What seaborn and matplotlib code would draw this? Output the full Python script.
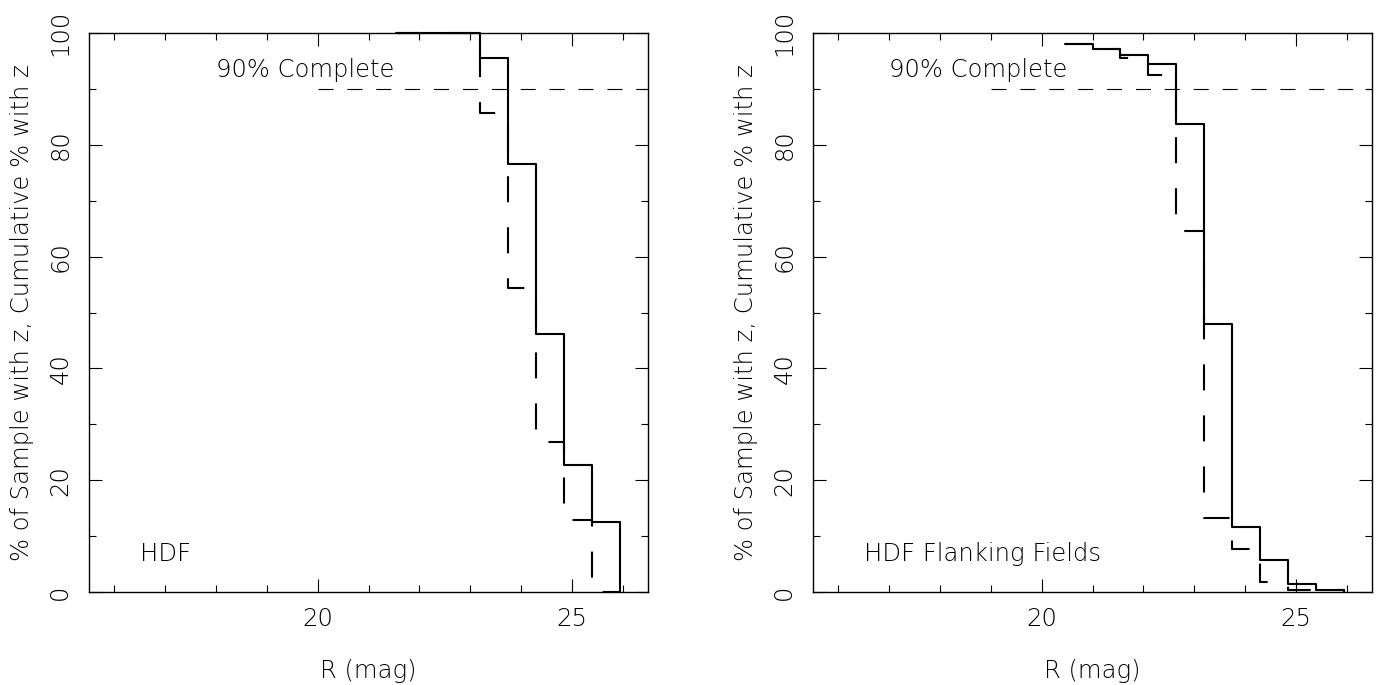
import matplotlib
matplotlib.use("Agg")
import matplotlib.pyplot as plt
from matplotlib.ticker import MultipleLocator
import pandas as pd
import seaborn as sns

# R-band bin edges (mag) and the two percentage curves per bin
hdf_edges = [21.55, 22.10, 22.65, 23.20, 23.75, 24.30, 24.85, 25.40, 25.95]
hdf_pct = [100.0, 100.0, 100.0, 95.6, 76.5, 46.1, 22.8, 12.6]
hdf_cum = [100.0, 100.0, 100.0, 85.7, 54.4, 26.9, 12.9, 0.0]

ff_edges = [20.45, 21.00, 21.55, 22.10, 22.65, 23.20, 23.75, 24.30, 24.85, 25.40, 25.95]
ff_pct = [98.0, 97.2, 96.0, 94.5, 83.7, 47.9, 11.6, 5.7, 1.4, 0.4]
ff_cum = [98.0, 97.2, 95.5, 92.5, 64.5, 13.3, 7.7, 1.8, 0.3, 0.3]

field_names = ["HDF", "HDF Flanking Fields"]
complete_level = 90
complete_label = "90% Complete"
complete_from = [20.0, 19.0]
complete_text_x = [18.0, 17.0]

x_label = "R (mag)"
y_label = "% of Sample with z, Cumulative % with z"

sns.set_theme(style="ticks", rc={
    "axes.edgecolor": "black",
    "axes.linewidth": 1.0,
    "xtick.color": "black",
    "ytick.color": "black",
    "text.color": "black",
    "axes.labelcolor": "black",
})
plt.rcParams["font.family"] = ["DejaVu Sans"]
plt.rcParams["font.weight"] = "light"
plt.rcParams["axes.labelweight"] = "light"

FS = 17.5
fig = plt.figure(figsize=(13.83, 6.85), dpi=100)
W, H = 1383, 685
ax_w, ax_h = 559 / W, 559 / H
bottom = (H - 592) / H
axes = [fig.add_axes([89 / W, bottom, ax_w, ax_h]),
        fig.add_axes([813 / W, bottom, ax_w, ax_h])]

panels = [(hdf_edges, hdf_pct, hdf_cum), (ff_edges, ff_pct, ff_cum)]

for i, (ax, (edges, pct, cum)) in enumerate(zip(axes, panels)):
    df = pd.DataFrame({"R": edges,
                       "pct": list(pct) + [0.0],
                       "cum": list(cum) + [0.0]})
    # cumulative curve, long dashes
    sns.lineplot(data=df, x="R", y="cum", ax=ax, color="black", lw=1.5,
                 drawstyle="steps-post", estimator=None, sort=False,
                 clip_on=False, zorder=3)
    ax.get_lines()[-1].set_dashes((12.5, 12.0))
    # per-bin curve, solid
    sns.lineplot(data=df, x="R", y="pct", ax=ax, color="black", lw=1.5,
                 drawstyle="steps-post", estimator=None, sort=False,
                 clip_on=False, zorder=3)
    # completeness level
    sns.lineplot(x=[complete_from[i], 26.5], y=[complete_level, complete_level],
                 ax=ax, color="black", lw=0.8)
    ax.get_lines()[-1].set_dashes((13.5, 12.5))

    ax.text(complete_text_x[i], 93.4, complete_label, fontsize=FS,
            ha="left", va="center", fontweight="light")
    ax.text(16.5, 6.8, field_names[i], fontsize=FS,
            ha="left", va="center", fontweight="light")

    ax.set_xlim(15.5, 26.5)
    ax.set_ylim(0, 100)
    ax.xaxis.set_major_locator(MultipleLocator(5))
    ax.xaxis.set_minor_locator(MultipleLocator(1))
    ax.yaxis.set_major_locator(MultipleLocator(20))
    ax.yaxis.set_minor_locator(MultipleLocator(10))
    ax.tick_params(which="both", direction="in", top=True, right=True,
                   width=0.8, labelsize=FS)
    ax.tick_params(which="major", length=9.4)
    ax.tick_params(which="minor", length=4.7)
    ax.tick_params(axis="x", which="major", pad=11)
    ax.tick_params(axis="y", which="major", pad=12, labelrotation=90)
    for lab in ax.get_yticklabels() + ax.get_xticklabels():
        lab.set_fontweight("light")
    for lab in ax.get_yticklabels():
        lab.set_va("center")
    ax.set_xlabel(x_label, fontsize=FS, labelpad=20, fontweight="light")
    ax.set_ylabel(y_label, fontsize=FS, labelpad=10, fontweight="light")
    for sp in ax.spines.values():
        sp.set_visible(True)

fig.savefig("out.png", dpi=100, facecolor="white")
